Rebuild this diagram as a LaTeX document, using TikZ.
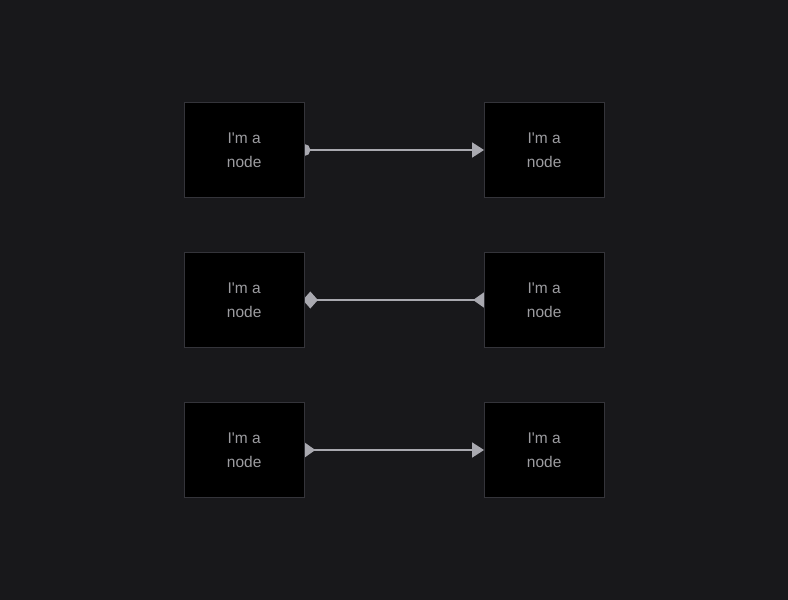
\documentclass[tikz,border=0pt]{standalone}
\usepackage{fontspec}
\newfontfamily\nodefont{Liberation Sans}
\usepackage{xcolor}
\usetikzlibrary{positioning, arrows.meta, backgrounds}

\definecolor{canvas}{HTML}{18181B}
\definecolor{boxline}{HTML}{34343A}
\definecolor{boxtext}{HTML}{9C9CA0}
\definecolor{wire}{HTML}{A9A9B0}

\tikzset{
  block/.style={draw=boxline, fill=black, line width=0.8pt, minimum width=119.5pt,
    minimum height=95.5pt, text=boxtext, align=center,
    font=\nodefont\fontsize{15.5}{24}\selectfont},
  link/.style={draw=wire, line width=1.8pt}
}

\begin{document}
\begin{tikzpicture}[x=1pt, y=-1pt, node distance=300pt and 150pt, on grid]
  \begin{scope}[on background layer]
    \fill[canvas] (0,0) rectangle (788,600);
  \end{scope}
  \useasboundingbox (0,0) rectangle (788,600);

  \node[block] (A1) at (244.2,150) {I'm a\\node};
  \node[block] (B1) [right=300pt of A1] {I'm a\\node};
  \node[block] (A2) [below=150pt of A1] {I'm a\\node};
  \node[block] (B2) [right=300pt of A2] {I'm a\\node};
  \node[block] (A3) [below=150pt of A2] {I'm a\\node};
  \node[block] (B3) [right=300pt of A3] {I'm a\\node};

  \begin{scope}[on background layer]
    \path[link]
      (A1) edge [{Circle[length=12pt, fill=wire]}-{Triangle[length=12pt, width=15pt, fill=wire]}, shorten <=-6pt] (B1)
      (A2) edge [{Diamond[length=15pt, width=17pt, fill=wire]}-{Triangle[length=11pt, width=15pt, reversed, fill=wire]}, shorten <=-1.5pt] (B2)
      (A3) edge [{Triangle[length=11pt, width=15pt, reversed, fill=wire]}-{Triangle[length=12pt, width=15pt, fill=wire]}] (B3);
  \end{scope}
\end{tikzpicture}
\end{document}
